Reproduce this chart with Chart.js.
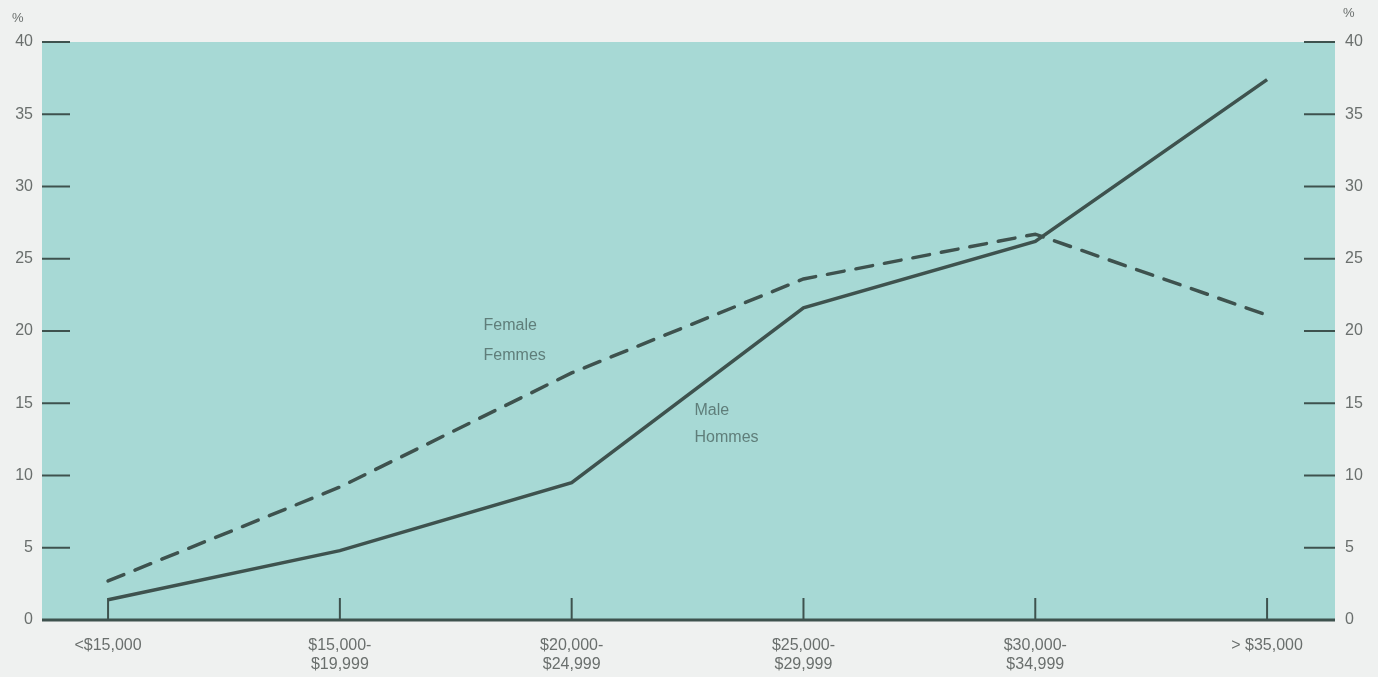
<!DOCTYPE html>
<html>
<head>
<meta charset="utf-8">
<script src="https://cdn.jsdelivr.net/npm/chart.js@4.4.0/dist/chart.umd.min.js"></script>
<style>
  html, body { margin: 0; padding: 0; background: #eff1f0; }
  #wrap { width: 1378px; height: 677px; }
</style>
</head>
<body>
<div id="wrap"><canvas id="incomeChart" width="1378" height="677"></canvas></div>
<script>
// --- Data ---
const categories = [
    ['<$15,000'],
    ['$15,000-', '$19,999'],
    ['$20,000-', '$24,999'],
    ['$25,000-', '$29,999'],
    ['$30,000-', '$34,999'],
    ['> $35,000']
];
const maleValues = [1.4, 4.8, 9.5, 21.6, 26.2, 37.4];
const femaleValues = [2.7, 9.2, 17.1, 23.6, 26.7, 21.1];
const yTicks = [0, 5, 10, 15, 20, 25, 30, 35, 40];

// inline series labels, placed in data units
const seriesNotes = [
    { text: 'Female', x: 1.62, y: 20.4 },
    { text: 'Femmes', x: 1.62, y: 18.3 },
    { text: 'Male', x: 2.53, y: 14.5 },
    { text: 'Hommes', x: 2.53, y: 12.6 }
];

const INK = '#3e524e';
const TEXT = '#6a6f6d';
const FONT = "'Liberation Sans', Arial, sans-serif";

const toPoints = vals => vals.map((v, i) => ({ x: i, y: v }));

// --- Plot decorations: teal panel, inner tick marks, notes ---
const panelPlugin = {
    id: 'panel',
    beforeDraw(chart) {
        const { ctx, chartArea: a } = chart;
        ctx.save();
        ctx.fillStyle = '#a7d9d5';
        ctx.fillRect(a.left, a.top, a.right - a.left, a.bottom - a.top);
        ctx.restore();
    },
    beforeDatasetsDraw(chart) {
        const { ctx, chartArea: a, scales } = chart;
        ctx.save();
        ctx.strokeStyle = INK;
        ctx.lineWidth = 2;
        // y tick marks, drawn inward from both sides
        yTicks.forEach(t => {
            if (t === 0) return;
            const yl = scales.y.getPixelForValue(t);
            ctx.beginPath();
            ctx.moveTo(a.left, yl);
            ctx.lineTo(a.left + 28, yl);
            ctx.stroke();
            const yr = scales.y2.getPixelForValue(t);
            ctx.beginPath();
            ctx.moveTo(a.right - 31, yr);
            ctx.lineTo(a.right, yr);
            ctx.stroke();
        });
        // category tick marks rising from the base line
        categories.forEach((c, i) => {
            const x = scales.x.getPixelForValue(i);
            ctx.beginPath();
            ctx.moveTo(x, a.bottom);
            ctx.lineTo(x, a.bottom - 22);
            ctx.stroke();
        });
        // base line
        ctx.lineWidth = 3;
        ctx.beginPath();
        ctx.moveTo(a.left, a.bottom);
        ctx.lineTo(a.right, a.bottom);
        ctx.stroke();

        // inline labels
        ctx.fillStyle = '#5f7e7a';
        ctx.font = '16px ' + FONT;
        ctx.textBaseline = 'middle';
        seriesNotes.forEach(n => {
            ctx.fillText(n.text, scales.x.getPixelForValue(n.x), scales.y.getPixelForValue(n.y));
        });

        // percent signs above the axes
        ctx.fillStyle = TEXT;
        ctx.font = '13px ' + FONT;
        ctx.fillText('%', a.left - 30, a.top - 24);
        ctx.fillText('%', a.right + 8, a.top - 29);
        ctx.restore();
    }
};

new Chart(document.getElementById('incomeChart'), {
    type: 'line',
    data: {
        datasets: [
            {
                label: 'Female / Femmes',
                data: toPoints(femaleValues),
                borderColor: INK,
                borderWidth: 3.5,
                borderDash: [17, 12],
                borderCapStyle: 'round',
                pointRadius: 0,
                tension: 0,
                yAxisID: 'y'
            },
            {
                label: 'Male / Hommes',
                data: toPoints(maleValues),
                borderColor: INK,
                borderWidth: 3.5,
                pointRadius: 0,
                tension: 0,
                yAxisID: 'y'
            }
        ]
    },
    options: {
        responsive: false,
        animation: false,
        layout: { padding: { top: 42, left: 0, right: 0, bottom: 0 } },
        plugins: { legend: { display: false }, tooltip: { enabled: false } },
        scales: {
            x: {
                type: 'linear',
                min: -0.285,
                max: 5.293,
                afterBuildTicks: axis => { axis.ticks = categories.map((c, i) => ({ value: i })); },
                afterFit: axis => { axis.height = 57; },
                grid: { display: false, drawTicks: false },
                border: { display: false },
                ticks: {
                    padding: 16,
                    autoSkip: false,
                    maxRotation: 0,
                    color: TEXT,
                    font: { family: FONT, size: 16, lineHeight: 1.2 },
                    callback: v => categories[v]
                }
            },
            y: {
                position: 'left',
                min: 0,
                max: 40,
                afterBuildTicks: axis => { axis.ticks = yTicks.map(v => ({ value: v })); },
                afterFit: axis => { axis.width = 42; },
                grid: { display: false, drawTicks: false },
                border: { display: false },
                ticks: { padding: 9, color: TEXT, font: { family: FONT, size: 16 } }
            },
            y2: {
                position: 'right',
                min: 0,
                max: 40,
                afterBuildTicks: axis => { axis.ticks = yTicks.map(v => ({ value: v })); },
                afterFit: axis => { axis.width = 43; },
                grid: { display: false, drawTicks: false },
                border: { display: false },
                ticks: { padding: 10, color: TEXT, font: { family: FONT, size: 16 } }
            }
        }
    },
    plugins: [panelPlugin]
});
</script>
</body>
</html>
